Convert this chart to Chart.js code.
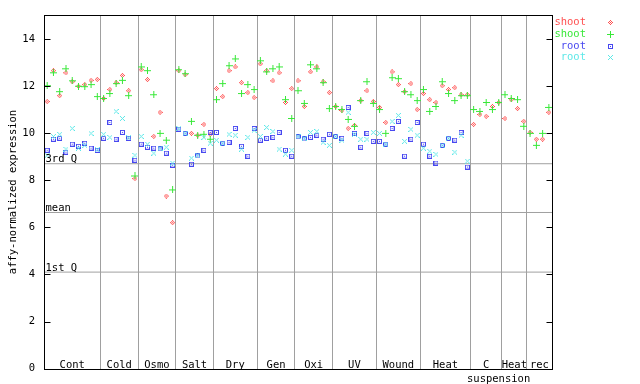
<!DOCTYPE html>
<html><head><meta charset="utf-8">
<script src="https://cdn.jsdelivr.net/npm/chart.js@4.4.1/dist/chart.umd.min.js"></script>
<style>html,body{margin:0;padding:0;background:#fff}#wrap{width:640px;height:384px;position:relative}</style>
</head><body><div id="wrap"><canvas id="c" width="640" height="384"></canvas></div>
<script>
// ---- data ----
const groups = ['Cont','Cold','Osmo','Salt','Dry','Gen','Oxi','UV','Wound','Heat','C','Heat','rec'];
const groupSizes = [9,6,6,6,7,6,6,7,7,8,5,4,4];
const groupSub = ['','','','','','','','','','','suspension','',''];
const seriesNames = ['shoot','shoot','root','root'];
const shootA = [11.34,12.65,11.59,12.56,12.18,11.99,12.06,12.24,12.28,
  11.47,11.85,12.14,12.45,11.80,8.07,
  12.69,12.27,9.86,10.88,7.33,6.20,
  12.65,12.48,9.99,9.91,10.37,9.95,
  11.89,11.55,12.65,12.81,12.14,11.72,11.51,
  12.94,12.65,12.22,12.56,11.30,11.89,
  12.22,11.13,12.60,12.81,12.18,11.72,
  11.13,10.96,10.20,10.33,11.38,11.80,11.34,
  11.09,10.45,12.60,12.06,11.76,12.10,11.00,
  11.68,11.42,11.30,12.01,11.85,11.93,11.63,11.63,
  10.37,10.79,10.71,11.13,11.30,
  10.62,11.42,11.04,10.50,
  10.03,9.74,9.74,10.88];
const shootB = [12.01,12.56,11.76,12.73,12.22,11.99,11.97,12.06,11.55,
  11.47,11.68,12.10,12.24,11.59,8.18,
  12.81,12.65,11.63,9.99,9.70,7.59,
  12.69,12.52,10.50,9.91,9.95,9.74,
  11.42,12.10,12.86,13.15,11.68,12.06,11.85,
  13.07,12.60,12.73,12.81,11.42,10.62,
  11.80,11.26,12.90,12.73,12.14,11.04,
  11.13,11.00,10.58,10.29,11.38,12.18,11.26,
  11.00,9.99,12.35,12.31,11.76,11.63,11.38,
  11.85,10.92,11.13,12.18,11.68,11.38,11.59,11.59,
  11.00,10.92,11.30,11.00,11.30,
  11.63,11.47,11.42,10.29,
  9.99,9.48,9.99,11.09];
const rootA = [9.27,9.74,9.78,9.19,9.53,9.44,9.57,9.36,9.27,
  9.78,10.45,9.74,10.03,9.78,8.85,
  9.53,9.40,9.36,9.33,9.15,8.64,
  10.17,9.99,8.68,9.03,9.27,10.03,
  10.03,9.57,9.61,10.20,9.44,9.02,10.20,
  9.70,9.78,9.82,10.03,9.27,9.02,
  9.84,9.75,9.82,9.91,9.74,9.95,
  9.86,9.78,11.09,9.99,9.40,9.99,9.65,
  9.65,9.53,10.20,10.50,9.02,9.74,10.45,
  9.53,9.02,8.73,9.48,9.78,9.70,10.03,8.56];
const rootB = [9.06,9.86,9.95,9.32,10.20,9.36,9.48,9.99,9.30,
  9.95,9.82,10.92,10.62,9.80,9.06,
  9.86,9.53,9.15,9.36,9.40,8.73,
  10.20,9.99,8.94,9.07,9.82,9.57,
  9.70,9.57,9.95,9.91,9.32,9.82,10.12,
  9.86,10.24,10.07,9.32,9.11,9.27,
  9.86,9.78,10.03,10.07,9.61,9.48,
  9.86,9.70,10.88,9.95,9.74,9.74,10.03,
  9.99,9.53,10.50,10.75,9.65,10.16,9.91,
  9.36,9.23,9.10,9.48,9.78,9.19,9.91,8.81];
const yTicks = [0,2,4,6,8,10,12,14];
const refLabels = ['3rd Q','mean','1st Q'];
const refValues = [8.70,6.63,4.10];

// ---- styling ----
const COLORS = ['#ff5050','#38e838','#4848f0','#5ce8e8'];
const FONT = "10.5px 'DejaVu Sans Mono', monospace";
const GRID = '#a0a0a0';

function marker(kind, color){
  const n = (kind==='plus') ? 7 : 5;
  const c = document.createElement('canvas'); c.width=n; c.height=n;
  const g = c.getContext('2d'); g.fillStyle=color;
  const m = (n-1)/2;
  for(let y=0;y<n;y++) for(let x=0;x<n;x++){
    const dx=x-m, dy=y-m; let on=false;
    if(kind==='diamond') on = Math.abs(dx)+Math.abs(dy)<=m && ((dx+dy)%2===0);
    if(kind==='plus') on = dx===0 || dy===0;
    if(kind==='box') on = Math.abs(dx)===m || Math.abs(dy)===m || (dx===0&&dy===0);
    if(kind==='x') on = Math.abs(dx)===Math.abs(dy);
    if(on) g.fillRect(x,y,1,1);
  }
  return c;
}
const markers = [marker('diamond',COLORS[0]),marker('plus',COLORS[1]),marker('box',COLORS[2]),marker('x',COLORS[3])];

const bounds=[0]; groupSizes.forEach(s=>bounds.push(bounds[bounds.length-1]+s));
const NX = bounds[bounds.length-1];
const pts = arr => arr.map((v,i)=>({x:i+0.5,y:v}));

const datasets = [shootA,shootB,rootA,rootB].map((arr,k)=>({
  label: seriesNames[k], data: pts(arr), pointStyle: markers[k], pointRadius:3,
  showLine:false, order: 3-k, borderColor: COLORS[k], backgroundColor: COLORS[k]
}));
refValues.forEach((v,k)=>datasets.push({
  label:'ref'+k, data:[{x:0,y:v},{x:NX,y:v}], showLine:true, pointRadius:0,
  borderColor:GRID, borderWidth:1, order:10
}));

const deco = {
  id:'deco',
  afterDraw(chart){
    const ctx=chart.ctx, a=chart.chartArea, xs=chart.scales.x, ys=chart.scales.y;
    ctx.save();
    ctx.strokeStyle='#000'; ctx.lineWidth=1;
    const L=Math.round(a.left)+0.5, R=Math.round(a.right)+0.5, T=Math.round(a.top)+0.5, B=Math.round(a.bottom)+0.5;
    ctx.strokeRect(L,T,R-L,B-T);
    ctx.beginPath();
    yTicks.forEach(v=>{const y=Math.round(ys.getPixelForValue(v))+0.5;
      ctx.moveTo(L,y);ctx.lineTo(L+6,y);ctx.moveTo(R,y);ctx.lineTo(R-6,y);});
    ctx.stroke();
    ctx.font=FONT; ctx.fillStyle='#000'; ctx.textBaseline='alphabetic';
    // group labels
    ctx.textAlign='center';
    groups.forEach((g,i)=>{
      const cx=(xs.getPixelForValue(bounds[i])+xs.getPixelForValue(bounds[i+1]))/2;
      ctx.fillText(g,cx,B-2);
      if(groupSub[i]){ctx.textAlign='left';ctx.fillText(groupSub[i],467,B+12);ctx.textAlign='center';}
    });
    // ref labels
    ctx.textAlign='left';
    refValues.forEach((v,k)=>ctx.fillText(refLabels[k],L+1,ys.getPixelForValue(v)-1.5));
    // y title
    ctx.save(); ctx.translate(13,(a.top+a.bottom)/2); ctx.rotate(-Math.PI/2);
    ctx.textAlign='center'; ctx.textBaseline='middle'; ctx.fillText('affy-normalized expression',0,0); ctx.restore();
    // legend
    const ly=[22,34,46,57.5];
    ctx.textBaseline='middle';
    seriesNames.forEach((n,k)=>{
      ctx.textAlign='right'; ctx.fillStyle=COLORS[k]; ctx.fillText(n,586,ly[k]);
      ctx.drawImage(markers[k],Math.round(610-markers[k].width/2),Math.round(ly[k]-markers[k].height/2));
    });
    ctx.restore();
  }
};

new Chart(document.getElementById('c'),{
  type:'scatter',
  data:{datasets},
  options:{
    responsive:false, animation:false, devicePixelRatio:1,
    layout:{padding:{left:0,right:88,top:13,bottom:0}},
    plugins:{legend:{display:false},tooltip:{enabled:false}},
    scales:{
      x:{type:'linear',min:0,max:NX,
        afterBuildTicks:s=>{s.ticks=bounds.map(v=>({value:v}));},
        afterFit:s=>{s.height=15;},
        ticks:{display:false},
        border:{display:false},
        grid:{drawTicks:false,lineWidth:1,
          color:c=>(c.tick&&(c.tick.value===0||c.tick.value===NX))?'rgba(0,0,0,0)':GRID}},
      y:{type:'linear',min:0,max:15,
        afterBuildTicks:s=>{s.ticks=yTicks.map(v=>({value:v}));},
        afterFit:s=>{s.width=44;},
        ticks:{font:{family:"'DejaVu Sans Mono', monospace",size:10.5},color:'#000',padding:9},
        border:{display:false},
        grid:{display:false,drawTicks:false}}
    }
  },
  plugins:[deco]
});
</script></body></html>
